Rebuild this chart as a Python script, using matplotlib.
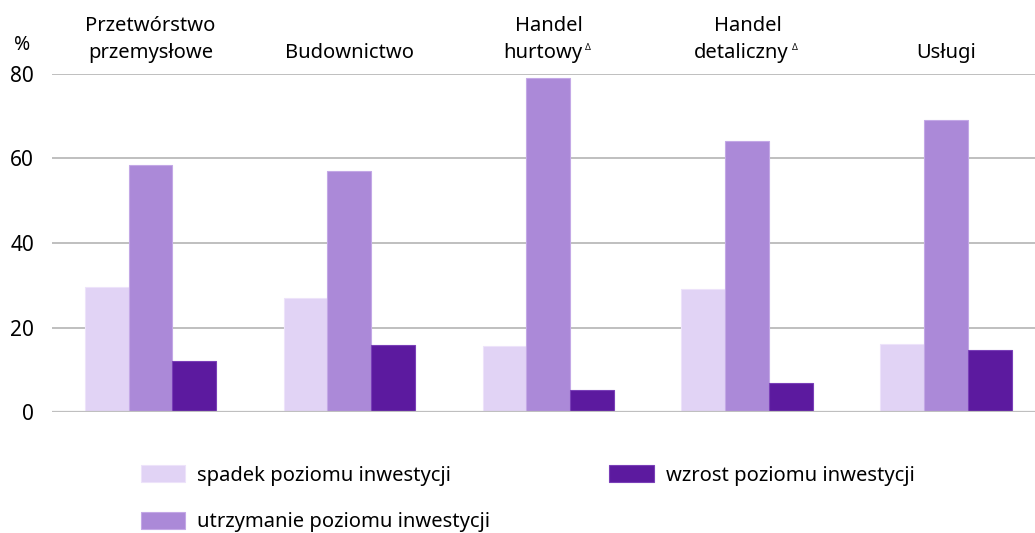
import matplotlib
matplotlib.use("Agg")
import matplotlib.pyplot as plt
import numpy as np

plt.rcParams['font.family'] = ['Noto Sans', 'DejaVu Sans']

categories = [("Przetwórstwo", "przemysłowe", False),
              (None, "Budownictwo", False),
              ("Handel", "hurtowy", True),
              ("Handel", "detaliczny", True),
              (None, "Usługi", False)]
series_names = ["spadek poziomu inwestycji", "utrzymanie poziomu inwestycji", "wzrost poziomu inwestycji"]
spadek = [29.7, 27.1, 15.7, 29.0, 16.2]
utrzymanie = [58.4, 57.0, 79.0, 64.1, 69.1]
wzrost = [12.1, 15.9, 5.2, 6.9, 14.7]
yticks = [0, 20, 40, 60, 80]
colors = ["#E1D3F5", "#AB89D8", "#5C1A9F"]
edges = ["#EDE3FA", "#C3A8E6", "#7A3FB8"]

W, H = 1035, 533
fig = plt.figure(figsize=(W / 100, H / 100), dpi=100)
ax_left, ax_right = 52, 1035
ax_bottom, ax_top = 412, 74
ax = fig.add_axes([ax_left / W, (H - ax_bottom) / H, (ax_right - ax_left) / W, (ax_bottom - ax_top) / H])

x = np.arange(len(categories))
bw = 0.221
handles = []
for i, (vals, c, ec, name) in enumerate(zip([spadek, utrzymanie, wzrost], colors, edges, series_names)):
    b = ax.bar(x + (i - 1) * bw, vals, width=bw, color=c, edgecolor=ec, linewidth=0.8, label=name, zorder=3)
    handles.append(b)

ax.set_xlim(-0.495, 4.445)
ax.set_ylim(0, 80)
ax.set_yticks(yticks)
ax.set_yticklabels([str(v) for v in yticks], fontsize=15, color="#000000")
ax.set_xticks([])
ax.tick_params(axis='y', length=0, pad=13)
for lab in ax.get_yticklabels():
    lab.set_horizontalalignment('right')
ax.grid(axis='y', color="#BFBFBF", linewidth=1.4, zorder=0)
ax.set_axisbelow(True)
for s in ["top", "right", "left", "bottom"]:
    ax.spines[s].set_visible(False)
ax.axhline(0, color="#BFBFBF", linewidth=1.6, zorder=4)

# category labels above the plot
fs = 14.5
for xi, (l1, l2, tri) in zip(x, categories):
    xf = ax.transData.transform((xi, 0))[0] / W
    if l1:
        fig.text(xf, (H - 31) / H, l1, ha='center', va='baseline', fontsize=fs)
    shift = -6 / W if tri else 0
    t2 = fig.text(xf + shift, (H - 58) / H, l2, ha='center', va='baseline', fontsize=fs)
    if tri:
        ax.annotate("Δ", xy=(1, 1), xycoords=t2, xytext=(2, 0), textcoords='offset points',
                    fontsize=6.5, ha='left', va='top', annotation_clip=False)

fig.text(22 / W, (H - 50) / H, "%", ha='center', va='baseline', fontsize=14)

leg = fig.legend(handles=handles, labels=series_names, loc='upper left',
                 bbox_to_anchor=(141 / W, (H - 465) / H), ncol=2, frameon=False,
                 fontsize=fs, handlelength=2.2, handleheight=0.95, handletextpad=0.6,
                 columnspacing=5.9, labelspacing=1.3, borderpad=0, borderaxespad=0)

fig.savefig("out.png", dpi=100, facecolor="white")
